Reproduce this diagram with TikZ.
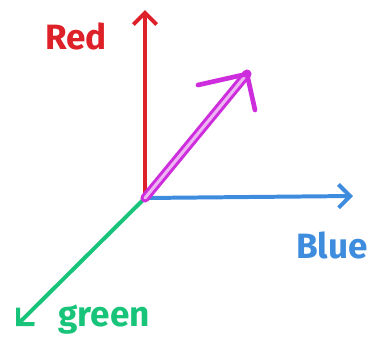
\documentclass[tikz,border=0pt]{standalone}
\usepackage{fontspec}
\setmainfont{Fira Sans}
\usetikzlibrary{arrows.meta}
\definecolor{axred}{RGB}{222,32,40}
\definecolor{axblue}{RGB}{62,140,222}
\definecolor{axgreen}{RGB}{24,196,122}
\definecolor{vecmag}{RGB}{205,45,220}
\tikzset{
 ax line/.style={line width=3.4pt,line cap=round,
                 -{Straight Barb[length=3.5mm,width=7mm]}},
 ax label/.style={font=\fontsize{30}{32}\selectfont\bfseries,inner sep=0pt},
 vec line/.style={vecmag,line width=2.6pt,double=vecmag!35,double distance=2.6pt,line cap=round},
 vec head/.style={vecmag,line width=4pt,line cap=round,line join=round}
}
\begin{document}
\begin{tikzpicture}[x=0.03cm,y=-0.03cm]
 \useasboundingbox (0,0) rectangle (379,351);
 % axes
 \coordinate (orig) at (145,198);
 \coordinate (redend) at (145,10);
 \coordinate (blueend) at (353,196);
 \coordinate (greenend) at (16,326);
 \draw[ax line,axred] (orig)--(redend);
 \draw[ax line,axblue] (orig)--(blueend);
 \draw[ax line,axgreen] (orig)--(greenend);
 \node[ax label,text=axred] (redlab) at (76,36) {Red};
 \node[ax label,text=axblue,anchor=west] (bluelab) at (296,245) {Blue};
 \node[ax label,text=axgreen] (greenlab) at (104,320) {green};
 % vector
 \coordinate (vtip) at (247,74);
 \coordinate (varmA) at (198,85);
 \coordinate (varmB) at (255,110);
 \draw[vec line] (orig)--(vtip);
 \draw[vec head] (varmA)--(vtip)--(varmB);
\end{tikzpicture}
\end{document}
